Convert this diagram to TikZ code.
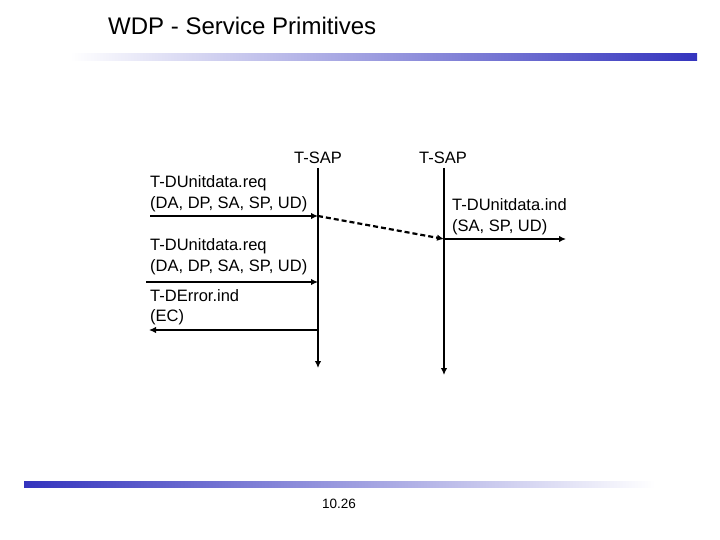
\documentclass[tikz,border=0pt]{standalone}
\usepackage{fontspec}
\setmainfont{Liberation Sans}
\usetikzlibrary{arrows.meta}
\definecolor{barblue}{RGB}{52,52,190}
\tikzset{
  lbl/.style={anchor=base west, inner sep=0pt, font=\fontsize{16.5}{19}\selectfont, align=left},
  sap/.style={anchor=base, inner sep=0pt, font=\fontsize{16.5}{19}\selectfont},
  life/.style={line width=2.2pt, -{Latex[length=7pt,width=6.5pt]}},
  msg/.style={line width=2.2pt, -{Latex[length=7pt,width=6.5pt]}},
  dmsg/.style={line width=2.2pt, dash pattern=on 5pt off 3pt, -{Latex[length=7pt,width=6.5pt]}}
}
\begin{document}
\begin{tikzpicture}[x=1pt,y=-1pt]
\useasboundingbox (0,0) rectangle (720,540);
% bars
\shade[left color=white, right color=barblue, draw=none] (70,54) rectangle (697,61);
\shade[left color=barblue, right color=white, draw=none] (24,481) rectangle (655,487);
\node[anchor=base west, inner sep=0pt, font=\fontsize{24}{28}\selectfont] (title) at (108,35) {WDP - Service Primitives};
\node[anchor=base, inner sep=0pt, font=\fontsize{13.5}{16}\selectfont] (page) at (339,508) {10.26};
% SAPs
\node[sap] (sapL) at (318,164) {T-SAP};
\node[sap] (sapR) at (443,164) {T-SAP};
\coordinate (lTop) at (318,168);
\coordinate (lBot) at (318,368);
\coordinate (rTop) at (444,168);
\coordinate (rBot) at (444,375);
\draw[life] (lTop) -- (lBot);
\draw[life] (rTop) -- (rBot);
% labels
\node[lbl] (req1a) at (150,188) {T-DUnitdata.req};
\node[lbl] (req1b) at (150,208) {(DA, DP, SA, SP, UD)};
\node[lbl] (inda) at (452,211) {T-DUnitdata.ind};
\node[lbl] (indb) at (452,231) {(SA, SP, UD)};
\node[lbl] (req2a) at (150,251) {T-DUnitdata.req};
\node[lbl] (req2b) at (150,271) {(DA, DP, SA, SP, UD)};
\node[lbl] (erra) at (150,301) {T-DError.ind};
\node[lbl] (errb) at (150,321) {(EC)};
% messages
\coordinate (m1s) at (150,216);
\coordinate (m1e) at (318,216);
\coordinate (m2e) at (444,239);
\coordinate (m3e) at (566,239);
\coordinate (m4s) at (146,282);
\coordinate (m4e) at (318,282);
\coordinate (m5s) at (318,330);
\coordinate (m5e) at (149,330);
\draw[msg] (m1s) -- (m1e);
\draw[dmsg] (m1e) -- (m2e);
\draw[msg] (m2e) -- (m3e);
\draw[msg] (m4s) -- (m4e);
\draw[msg] (m5s) -- (m5e);
\end{tikzpicture}
\end{document}
